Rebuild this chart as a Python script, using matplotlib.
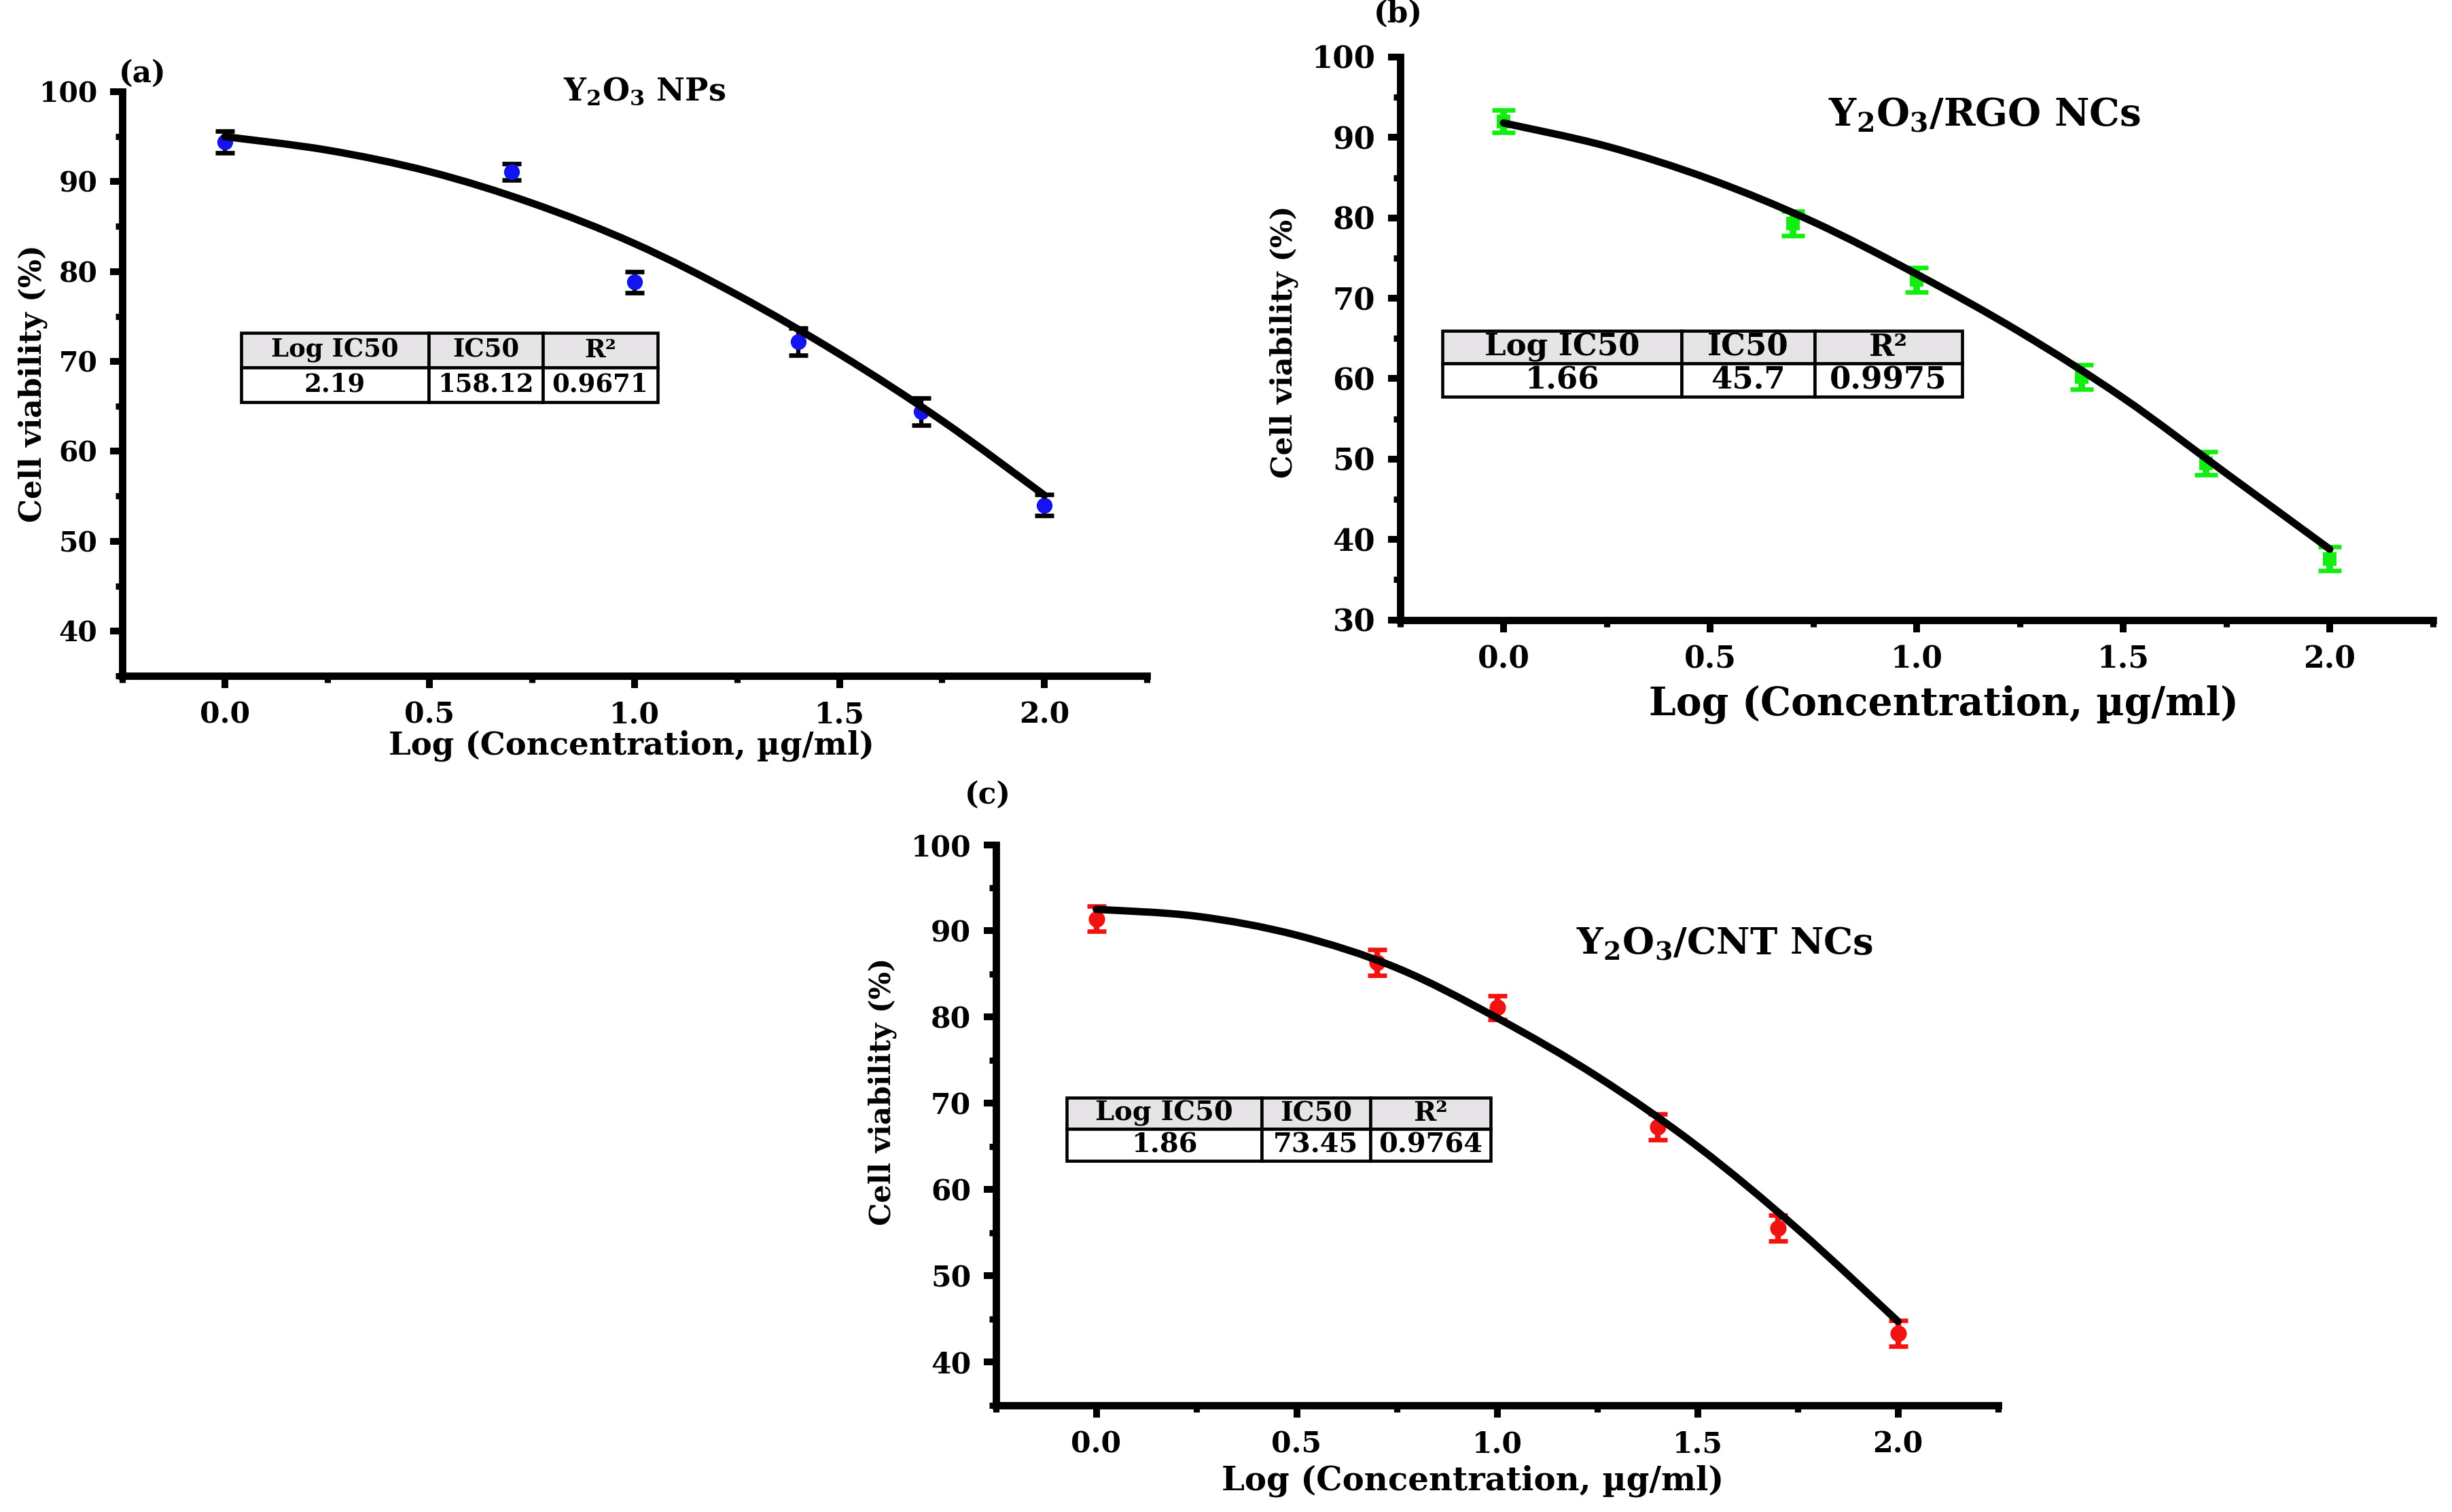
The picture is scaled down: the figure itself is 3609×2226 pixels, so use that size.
import matplotlib
matplotlib.use("Agg")
import matplotlib.pyplot as plt
from matplotlib.ticker import MultipleLocator, FormatStrFormatter
from matplotlib.path import Path
from matplotlib.patches import PathPatch

plt.rcParams['font.family'] = ['DejaVu Serif']
plt.rcParams['font.weight'] = 'bold'
plt.rcParams['axes.labelweight'] = 'bold'
plt.rcParams['mathtext.fontset'] = 'custom'
plt.rcParams['mathtext.rm'] = 'DejaVu Serif:bold'
plt.rcParams['mathtext.it'] = 'DejaVu Serif:bold'
plt.rcParams['mathtext.bf'] = 'DejaVu Serif:bold'

# ---------------- data ----------------
log_conc = [0.0, 0.7, 1.0, 1.4, 1.7, 2.0]

via_a = [94.4, 91.1, 78.8, 72.2, 64.4, 54.0]
err_a = [1.2, 0.9, 1.2, 1.5, 1.5, 1.2]
via_b = [92.0, 79.3, 72.3, 60.2, 49.5, 37.6]
err_b = [1.4, 1.5, 1.5, 1.5, 1.45, 1.45]
via_c = [91.4, 86.3, 81.1, 67.3, 55.5, 43.3]
err_c = [1.45, 1.5, 1.4, 1.5, 1.5, 1.5]

fit_x = [0.0, 0.25, 0.5, 0.75, 1.0, 1.25, 1.5, 1.75, 2.0]
fit_a = [95.0, 93.5, 91.1, 87.6, 83.1, 77.4, 70.8, 63.4, 55.1]
fit_b = [91.8, 88.9, 84.8, 79.5, 73.0, 65.8, 57.6, 48.2, 38.8]
fit_c = [92.5, 91.7, 89.5, 85.7, 79.9, 73.1, 65.0, 55.4, 44.7]

table_cols = ['Log IC50', 'IC50', 'R²']
table_a = ['2.19', '158.12', '0.9671']
table_b = ['1.66', '45.7', '0.9975']
table_c = ['1.86', '73.45', '0.9764']

titles = ['Y$_2$O$_3$ NPs', 'Y$_2$O$_3$/RGO NCs', 'Y$_2$O$_3$/CNT NCs']
panel_tags = ['(a)', '(b)', '(c)']
xlabel = 'Log (Concentration, µg/ml)'
ylabel = 'Cell viability (%)'


def smooth_path(xs, ys):
    """Smooth curve through the read fit points (Catmull-Rom as cubic Bezier)."""
    pts = list(zip(xs, ys))
    n = len(pts)
    verts = [pts[0]]
    codes = [Path.MOVETO]
    for i in range(n - 1):
        p0 = pts[i - 1] if i > 0 else pts[i]
        p1 = pts[i]
        p2 = pts[i + 1]
        p3 = pts[i + 2] if i + 2 < n else pts[i + 1]
        c1 = (p1[0] + (p2[0] - p0[0]) / 6, p1[1] + (p2[1] - p0[1]) / 6)
        c2 = (p2[0] - (p3[0] - p1[0]) / 6, p2[1] - (p3[1] - p1[1]) / 6)
        verts += [c1, c2, p2]
        codes += [Path.CURVE4] * 3
    return Path(verts, codes)


# ---------------- layout / style ----------------
W, H = 3609, 2226
fig = plt.figure(figsize=(W / 300, H / 300), dpi=300)

panels = [
    dict(rect=[0.04988, 0.55301, 0.41785, 0.38634], y=via_a, e=err_a, fit=fit_a,
         tab=table_a, ylim=(35, 100), ymin_tick=40,
         mcolor='#1414f0', ecolor='black', marker='o', ms=4.6, cap=3.4, elw=1.5,
         tbbox=[0.116, 0.4686, 0.4065, 0.1186], tcw=[276, 168, 169], tfs=8.9,
         title_xy=(0.51, 1.0), tfs_title=11.0,
         xlab=(0.497, -0.092), xlfs=11.2, ylab=(-0.073, 0.5), ylfs=10.6,
         ytfs=9.8, xtfs=10.2,
         tag_xy=(175, 108), tag_ha='left', tag_fs=10.5, tag_w='bold'),
    dict(rect=[0.57107, 0.59003, 0.42117, 0.37224], y=via_b, e=err_b, fit=fit_b,
         tab=table_b, ylim=(30, 100), ymin_tick=30,
         mcolor='#12ee12', ecolor='#12ee12', marker='s', ms=4.0, cap=4.0, elw=2.4,
         tbbox=[0.0408, 0.3966, 0.503, 0.117], tcw=[352, 196, 217], tfs=10.8,
         title_xy=(0.566, 0.896), tfs_title=13.5,
         xlab=(0.526, -0.116), xlfs=13.6, ylab=(-0.099, 0.494), ylfs=10.4,
         ytfs=10.8, xtfs=10.6,
         tag_xy=(2058, 20), tag_ha='center', tag_fs=10.5, tag_w='bold'),
    dict(rect=[0.40621, 0.07075, 0.40870, 0.37062], y=via_c, e=err_c, fit=fit_c,
         tab=table_c, ylim=(35, 100), ymin_tick=40,
         mcolor='#f21212', ecolor='#f21212', marker='o', ms=4.8, cap=3.4, elw=2.0,
         tbbox=[0.0705, 0.4358, 0.423, 0.1127], tcw=[287, 160, 177], tfs=9.6,
         title_xy=(0.727, 0.822), tfs_title=13.0,
         xlab=(0.476, -0.107), xlfs=11.6, ylab=(-0.099, 0.559), ylfs=10.2,
         ytfs=10.2, xtfs=10.2,
         tag_xy=(1454, 1170), tag_ha='center', tag_fs=10.5, tag_w='bold'),
]

for i, p in enumerate(panels):
    ax = fig.add_axes(p['rect'])
    ax.errorbar(log_conc, p['y'], yerr=p['e'], fmt=p['marker'], color=p['mcolor'],
                mec=p['mcolor'], ecolor=p['ecolor'], ms=p['ms'], capsize=p['cap'],
                elinewidth=p['elw'], capthick=1.6, zorder=3)
    ax.add_patch(PathPatch(smooth_path(fit_x, p['fit']), facecolor='none',
                           edgecolor='black', lw=2.6, capstyle='round',
                           joinstyle='round', zorder=4))

    ax.set_xlim(-0.25, 2.25)
    ax.set_ylim(*p['ylim'])
    ax.xaxis.set_major_locator(MultipleLocator(0.5))
    ax.xaxis.set_minor_locator(MultipleLocator(0.25))
    ax.set_yticks(list(range(p['ymin_tick'], 101, 10)))
    ax.yaxis.set_minor_locator(MultipleLocator(5))
    ax.xaxis.set_major_formatter(FormatStrFormatter('%.1f'))

    for s in ['top', 'right']:
        ax.spines[s].set_visible(False)
    for s in ['left', 'bottom']:
        ax.spines[s].set_linewidth(2.6)
        ax.spines[s].set_capstyle('projecting')
    ax.tick_params(which='major', direction='out', length=4.3, width=2.4, pad=4.5)
    ax.tick_params(which='minor', direction='out', length=2.3, width=2.2)
    ax.tick_params(axis='x', labelsize=p['xtfs'])
    ax.tick_params(axis='y', labelsize=p['ytfs'])

    ax.set_xlabel(xlabel, fontsize=p['xlfs'], fontweight='bold')
    ax.xaxis.set_label_coords(*p['xlab'])
    ax.set_ylabel(ylabel, fontsize=p['ylfs'], fontweight='bold')
    ax.yaxis.set_label_coords(*p['ylab'])

    ax.text(p['title_xy'][0], p['title_xy'][1], titles[i], transform=ax.transAxes,
            ha='center', va='center', fontsize=p['tfs_title'], fontweight='bold')

    tb = ax.table(cellText=[p['tab']], colLabels=table_cols, colWidths=p['tcw'],
                  cellLoc='center', bbox=p['tbbox'])
    tb.auto_set_font_size(False)
    tb.set_fontsize(p['tfs'])
    for (r, c), cell in tb.get_celld().items():
        cell.set_linewidth(1.1)
        cell.set_edgecolor('black')
        cell.get_text().set_fontweight('bold')
        cell.set_facecolor('#e6e4e6' if r == 0 else 'white')
    tb.set_zorder(5)

    fig.text(p['tag_xy'][0] / W, 1 - p['tag_xy'][1] / H, panel_tags[i],
             ha=p['tag_ha'], va='center', fontsize=p['tag_fs'], fontweight=p['tag_w'])

fig.savefig('out.png', dpi=300, facecolor='white')
